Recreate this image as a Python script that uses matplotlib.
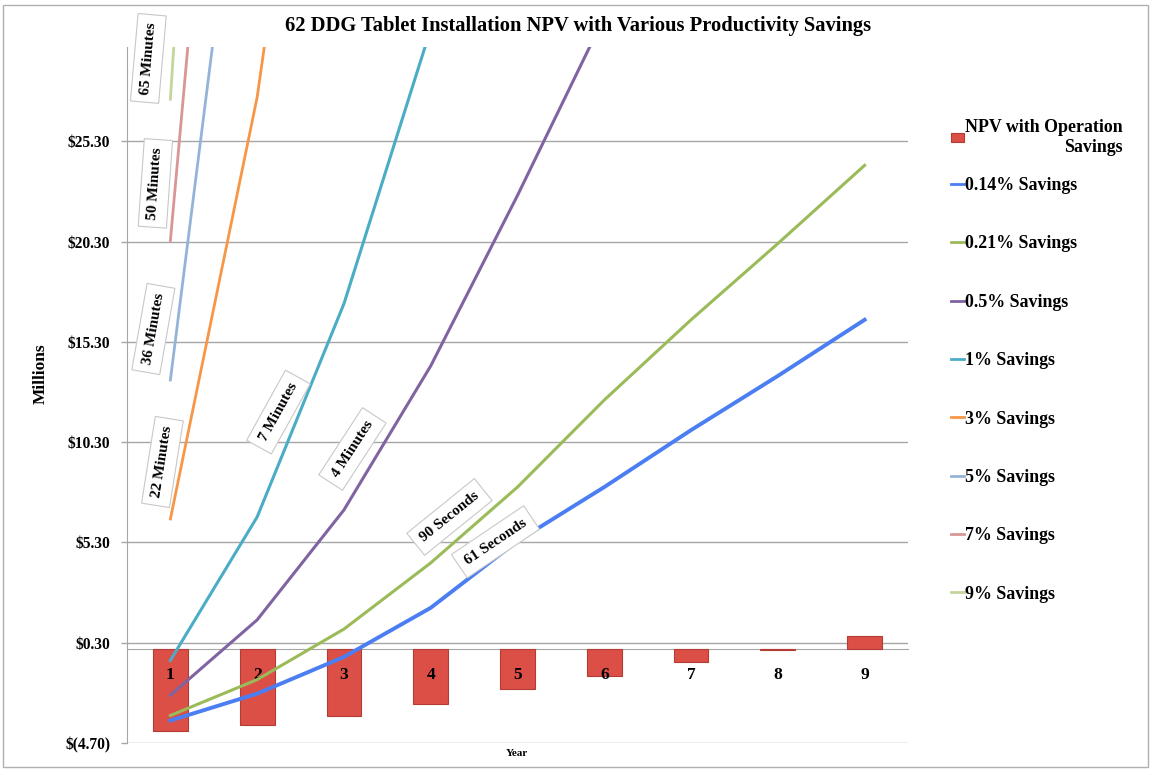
import numpy as np
import matplotlib
matplotlib.use("Agg")
import matplotlib.pyplot as plt
from matplotlib.ticker import FuncFormatter

plt.rcParams['font.family'] = ['Liberation Serif', 'DejaVu Serif']
plt.rcParams['font.weight'] = 'bold'

years = [1, 2, 3, 4, 5, 6, 7, 8, 9]
npv_operation = [-4.11, -3.78, -3.33, -2.75, -2.02, -1.38, -0.66, -0.08, 0.65]
s014 = [-3.58, -2.24, -0.41, 2.04, 5.37, 8.06, 10.9, 13.6, 16.4]
s021 = [-3.33, -1.54, 0.98, 4.28, 8.06, 12.4, 16.4, 20.2, 24.1]
s05 = [-2.32, 1.44, 6.92, 14.1, 22.6, 31.5, 40.5, 49.5, 58.5]
s1 = [-0.58, 6.57, 17.2, 30.9, 44.0, 57.0, 70.0, 83.0, 96.0]
s3 = [6.47, 27.5, 57.9, 88.0, 118.0, 148.0, 178.0, 208.0, 238.0]
s5 = [13.4, 47.7, 82.0, 116.0, 150.0, 184.0, 218.0, 252.0, 286.0]
s7 = [20.35, 68.4, 116.0, 164.0, 212.0, 260.0, 308.0, 356.0, 404.0]
s9 = [27.4, 94.5, 161.0, 228.0, 295.0, 362.0, 429.0, 496.0, 563.0]

series_labels = ['0.14% Savings', '0.21% Savings', '0.5% Savings', '1% Savings',
                 '3% Savings', '5% Savings', '7% Savings', '9% Savings']
series_values = [s014, s021, s05, s1, s3, s5, s7, s9]
series_colors = ['#4A7EF2', '#9BBB59', '#8064A2', '#4BACC6',
                 '#F79646', '#95B3D7', '#D99694', '#C3D69B']
series_widths = [2.8, 2.2, 2.2, 2.2, 2.0, 2.0, 2.0, 2.0]

annot_texts = ['65 Minutes', '50 Minutes', '36 Minutes', '22 Minutes',
               '7 Minutes', '4 Minutes', '90 Seconds', '61 Seconds']
annot_x = [0.746, 0.827, 0.804, 0.908, 2.245, 3.098, 4.216, 4.746]
annot_y = [29.43, 23.2, 15.94, 9.31, 11.8, 9.96, 6.57, 5.33]
annot_rot = [85, 86, 80, 81, 61, 57, 39, 34]

W, H = 1151, 770
fig = plt.figure(figsize=(W / 100, H / 100), dpi=100)
ax = fig.add_axes([127 / W, 1 - 743 / H, (908 - 127) / W, (743 - 47) / H])

bars = ax.bar(years, npv_operation, width=0.4, color='#DB4F46', edgecolor='#B43C35',
              linewidth=0.8, zorder=2, label='NPV with Operation\nSavings')
line_handles = []
for vals, lab, col, lw in zip(series_values, series_labels, series_colors, series_widths):
    ln, = ax.plot(years, vals, color=col, lw=lw, label=lab, zorder=4)
    line_handles.append(ln)

ax.set_xlim(0.5, 9.5)
ax.set_ylim(-4.7, 30.0)
yt = np.arange(-4.7, 26, 5)
ax.set_yticks(yt)
ax.yaxis.set_major_formatter(FuncFormatter(
    lambda v, p: f"${v:.2f}" if v >= 0 else f"$({-v:.2f})"))
ax.grid(axis='y', color='#A6A6A6', lw=1.0, zorder=0)
ax.set_axisbelow(True)

ax.spines['top'].set_visible(False)
ax.spines['right'].set_visible(False)
ax.spines['left'].set_color('#A6A6A6')
ax.spines['bottom'].set_position(('data', 0))
ax.spines['bottom'].set_color('#A6A6A6')
ax.spines['bottom'].set_zorder(1)
ax.set_xticks(years)
ax.set_xticklabels([str(y) for y in years])
ax.xaxis.set_zorder(3)
ax.tick_params(axis='x', length=0, pad=13, labelsize=12.5)
ax.tick_params(axis='y', length=4, color='#A6A6A6', width=1, labelsize=11.2, direction='out', pad=8)
for t in ax.get_xticklabels():
    t.set_fontweight('bold')
for t in ax.get_yticklabels():
    t.set_fontweight('bold')

ax.set_ylabel('Millions', fontsize=12.5, fontweight='bold')
ax.yaxis.set_label_coords(-0.100, 0.53)
fig.text(517 / W, 1 - 753 / H, 'Year', ha='center', va='center', fontsize=8, fontweight='bold')

fig.text(578 / W, 1 - 26 / H, '62 DDG Tablet Installation NPV with Various Productivity Savings',
         ha='center', va='center', fontsize=14.8, fontweight='bold')

for txt, x, y, r in zip(annot_texts, annot_x, annot_y, annot_rot):
    ax.text(x, y, txt, rotation=r, rotation_mode='anchor', ha='center', va='center',
            fontsize=11, fontweight='bold', zorder=6, clip_on=False,
            bbox=dict(boxstyle='square,pad=0.5', fc='white', ec='#C8C8C8', lw=0.8))

leg1 = ax.legend(handles=[bars], loc='upper left', bbox_to_anchor=(951 / W, 1 - 119 / H),
                 bbox_transform=fig.transFigure, frameon=False, fontsize=12.9,
                 handlelength=0.75, handleheight=0.35, handletextpad=0.05,
                 borderaxespad=0, borderpad=0)
for t in leg1.get_texts():
    t.set_fontweight('bold')
    t.set_multialignment('right')
ax.add_artist(leg1)

leg2 = ax.legend(handles=line_handles, loc='upper left', bbox_to_anchor=(951 / W, 1 - 177 / H),
                 bbox_transform=fig.transFigure, frameon=False, fontsize=12.9,
                 handlelength=0.75, handletextpad=0.05, labelspacing=2.31,
                 borderaxespad=0, borderpad=0)
for t in leg2.get_texts():
    t.set_fontweight('bold')
for h in leg2.legend_handles:
    h.set_linewidth(2.0)

fig.patches.append(plt.Rectangle((3 / W, 3 / H), 1 - 6 / W, 1 - 8 / H, transform=fig.transFigure,
                                 fill=False, ec='#B0B0B0', lw=1.0))

fig.savefig('out.png', dpi=100)
